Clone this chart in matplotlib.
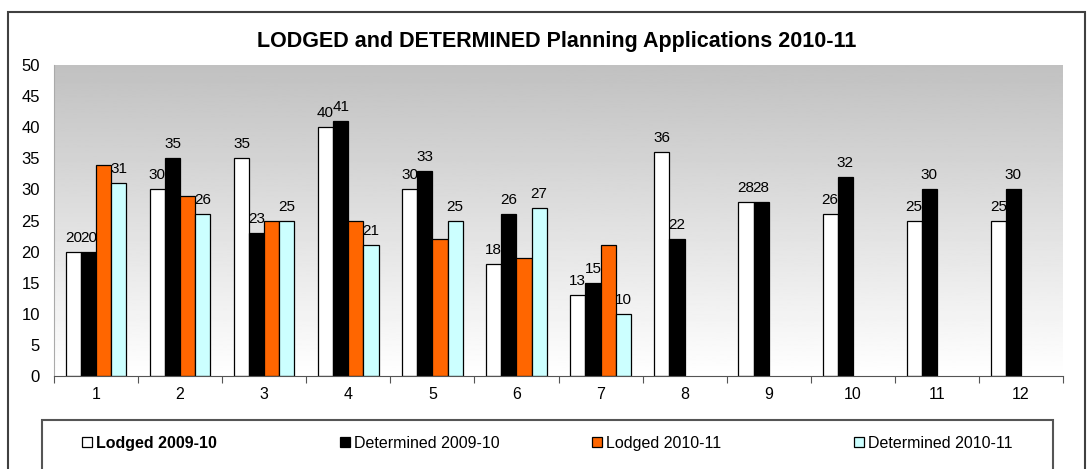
import numpy as np
import matplotlib
matplotlib.use("Agg")
import matplotlib.pyplot as plt
from matplotlib.patches import Rectangle

plt.rcParams["font.family"] = ["Liberation Sans", "DejaVu Sans"]

categories = ["1", "2", "3", "4", "5", "6", "7", "8", "9", "10", "11", "12"]
lodged_0910 = [20, 30, 35, 40, 30, 18, 13, 36, 28, 26, 25, 25]
determined_0910 = [20, 35, 23, 41, 33, 26, 15, 22, 28, 32, 30, 30]
lodged_1011 = [34, 29, 25, 25, 22, 19, 21, np.nan, np.nan, np.nan, np.nan, np.nan]
determined_1011 = [31, 26, 25, 21, 25, 27, 10, np.nan, np.nan, np.nan, np.nan, np.nan]

series = [
    ("Lodged 2009-10", lodged_0910, "#ffffff", True),
    ("Determined 2009-10", determined_0910, "#000000", True),
    ("Lodged 2010-11", lodged_1011, "#ff6600", False),
    ("Determined 2010-11", determined_1011, "#ccffff", True),
]
legend_x = [82, 340, 592, 854]  # left edge of each legend entry, px

fig = plt.figure(figsize=(10.88, 4.69), dpi=100)
fig.patch.set_facecolor("white")

# outer chart border
fig.add_artist(Rectangle((8 / 1088, -0.01), 1077 / 1088, 1 - 12 / 469 + 0.01,
                         transform=fig.transFigure, fill=False,
                         edgecolor="#404040", linewidth=1.5))

ax = fig.add_axes([54 / 1088, 1 - 376 / 469, 1009 / 1088, 311 / 469])

# gradient background
grad = np.linspace(1, 0, 256).reshape(-1, 1)
ax.imshow(grad, extent=[0, 12, 0, 50], aspect="auto", cmap="gray",
          vmin=-3.1, vmax=1, zorder=0, origin="lower")

x = np.arange(len(categories))
w = 0.18
offsets = [-1.5, -0.5, 0.5, 1.5]
handles = []
for (name, vals, color, labelled), off in zip(series, offsets):
    bars = ax.bar(x + 0.5 + off * w, vals, w, color=color, edgecolor="black",
                  linewidth=0.9, zorder=2, label=name)
    handles.append(bars)
    if labelled:
        for xi, v in zip(x, vals):
            if np.isnan(v):
                continue
            ax.annotate(f"{int(v)}", (xi + 0.5 + off * w, v),
                        textcoords="offset points", xytext=(0, 5),
                        ha="center", va="bottom", fontsize=11, zorder=3)

ax.set_xlim(0, 12)
ax.set_ylim(0, 50)
ax.set_yticks(range(0, 51, 5))
ax.set_xticks(np.arange(0, 13), minor=False)
ax.set_xticklabels([])
ax.set_xticks(x + 0.5, minor=True)
ax.set_xticklabels(categories, minor=True)
ax.tick_params(axis="x", which="minor", length=0, pad=8, labelsize=11.5)
ax.tick_params(axis="x", which="major", length=5, direction="out", color="#555555")
ax.tick_params(axis="y", length=0, pad=10, labelsize=12)
for s in ["top", "right"]:
    ax.spines[s].set_visible(False)
ax.spines["left"].set_color("#aaaaaa")
ax.spines["bottom"].set_color("#555555")

fig.text(0.512, 1 - 42 / 469, "LODGED and DETERMINED Planning Applications 2010-11",
         ha="center", va="center", fontsize=15.5, fontweight="bold")

# legend box
fig.add_artist(Rectangle((42 / 1088, -0.01), 1011 / 1088, (469 - 420) / 469 + 0.01,
                         transform=fig.transFigure, fill=False,
                         edgecolor="#555555", linewidth=1.5))
for i, (h, lx) in enumerate(zip(handles, legend_x)):
    leg = fig.legend(handles=[h], loc="center left",
                     bbox_to_anchor=(lx / 1088, 1 - 443 / 469), frameon=False,
                     handlelength=0.6, handleheight=0.6, handletextpad=0.3,
                     borderpad=0, borderaxespad=0, fontsize=11.5)
    if i == 0:
        leg.get_texts()[0].set_fontweight("bold")

fig.savefig("out.png", dpi=100, facecolor="white")
